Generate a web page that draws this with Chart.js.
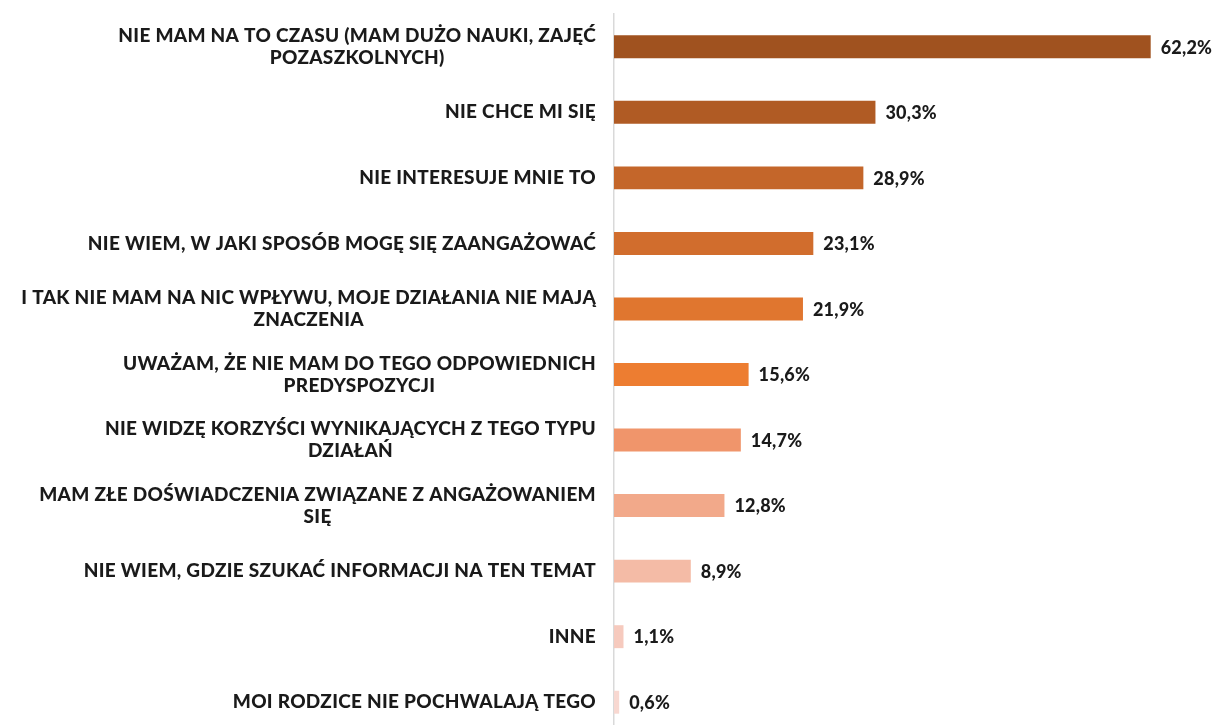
<!DOCTYPE html>
<html>
<head>
<meta charset="utf-8">
<script src="https://cdn.jsdelivr.net/npm/chart.js@4"></script>
<style>
    html, body { margin: 0; padding: 0; background: #fff; overflow: hidden; }
    #wrap { position: relative; width: 1218px; height: 736px; }
</style>
</head>
<body>
<div id="wrap"><canvas id="reasons-chart"></canvas></div>
<script>
const categories = [
    ['NIE MAM NA TO CZASU (MAM DUŻO NAUKI, ZAJĘĆ', 'POZASZKOLNYCH)'],
    ['NIE CHCE MI SIĘ'],
    ['NIE INTERESUJE MNIE TO'],
    ['NIE WIEM, W JAKI SPOSÓB MOGĘ SIĘ ZAANGAŻOWAĆ'],
    ['I TAK NIE MAM NA NIC WPŁYWU, MOJE DZIAŁANIA NIE MAJĄ', 'ZNACZENIA'],
    ['UWAŻAM, ŻE NIE MAM DO TEGO ODPOWIEDNICH', 'PREDYSPOZYCJI'],
    ['NIE WIDZĘ KORZYŚCI WYNIKAJĄCYCH Z TEGO TYPU', 'DZIAŁAŃ'],
    ['MAM ZŁE DOŚWIADCZENIA ZWIĄZANE Z ANGAŻOWANIEM', 'SIĘ'],
    ['NIE WIEM, GDZIE SZUKAĆ INFORMACJI NA TEN TEMAT'],
    ['INNE'],
    ['MOI RODZICE NIE POCHWALAJĄ TEGO'],
]
const percents = [62.2, 30.3, 28.9, 23.1, 21.9, 15.6, 14.7, 12.8, 8.9, 1.1, 0.6]
const barColors = ['#A0521F', '#B05B24', '#C4662A', '#D16D2D', '#E0762F', '#ED7D31',
    '#F0956B', '#F2A98A', '#F4BBA6', '#F6CABE', '#F8D8D1']

const FONT = '"Lato", "Open Sans", sans-serif'

// draws the category text: block right-aligned, lines centred within it
const categoryLabels = {
    id: 'categoryLabels',
    afterDraw(chart) {
        const ctx = chart.ctx
        const y = chart.scales.y
        const right = chart.chartArea.left - 18
        const lineH = 22
        ctx.save()
        ctx.font = '900 19px ' + FONT
        ctx.letterSpacing = '0.3px'
        ctx.fillStyle = '#1a1a1a'
        ctx.textBaseline = 'middle'
        ctx.textAlign = 'center'
        categories.forEach((lines, i) => {
            const widest = Math.max(...lines.map(l => ctx.measureText(l).width))
            const cx = right - widest / 2
            const cy = y.getPixelForTick(i)
            const top = cy - (lines.length - 1) * lineH / 2
            lines.forEach((l, j) => ctx.fillText(l, cx, top + j * lineH))
        })
        ctx.restore()
    }
}

const valueLabels = {
    id: 'valueLabels',
    afterDatasetsDraw(chart) {
        const ctx = chart.ctx
        const meta = chart.getDatasetMeta(0)
        ctx.save()
        ctx.font = '900 18px ' + FONT
        ctx.letterSpacing = '0.2px'
        ctx.fillStyle = '#1a1a1a'
        ctx.textBaseline = 'middle'
        ctx.textAlign = 'left'
        meta.data.forEach((bar, i) => {
            const txt = percents[i].toFixed(1).replace('.', ',') + '%'
            ctx.fillText(txt, bar.x + 10, bar.y + 1)
        })
        ctx.restore()
    }
}

const reasons_chart = () => {
    const ctx = document.getElementById('reasons-chart')

    new Chart(ctx, {
        type: 'bar',
        data: {
            labels: categories.map(c => c.join(' ')),
            datasets: [{
                data: percents,
                backgroundColor: barColors,
                borderWidth: 0,
                barPercentage: 0.7,
                categoryPercentage: 0.5,
            }],
        },
        options: {
            indexAxis: 'y',
            responsive: true,
            maintainAspectRatio: false,
            animation: false,
            layout: { padding: { top: 14, bottom: 1, left: 0, right: 0 } },
            plugins: {
                legend: { display: false },
                tooltip: { enabled: false },
            },
            scales: {
                x: {
                    display: false,
                    min: 0,
                    max: 70,
                },
                y: {
                    grid: { display: false },
                    border: { display: true, color: '#D9D9D9', width: 1.5 },
                    ticks: { display: false },
                    afterFit(scale) { scale.width = 614 },
                },
            },
        },
        plugins: [categoryLabels, valueLabels],
    })
}

reasons_chart()
</script>
</body>
</html>
